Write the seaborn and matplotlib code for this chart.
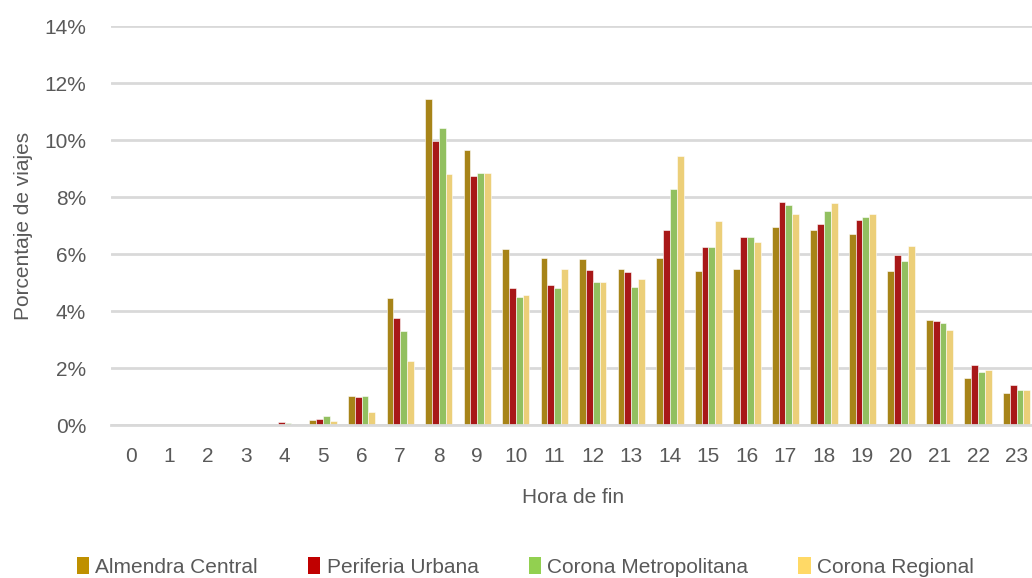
import matplotlib
matplotlib.use("Agg")
import matplotlib.pyplot as plt
import seaborn as sns
import pandas as pd
from matplotlib.patches import Patch
from matplotlib.ticker import FuncFormatter

horas = [str(h) for h in range(24)]
almendra_central = [0.0, 0.0, 0.0, 0.0, 0.01, 0.19, 1.03, 4.47, 11.46, 9.66, 6.18, 5.87,
                    5.82, 5.46, 5.86, 5.40, 5.48, 6.95, 6.83, 6.70, 5.41, 3.67, 1.66, 1.12]
periferia_urbana = [0.0, 0.0, 0.0, 0.0, 0.09, 0.22, 0.97, 3.74, 9.96, 8.75, 4.82, 4.91,
                    5.44, 5.38, 6.85, 6.25, 6.60, 7.84, 7.05, 7.19, 5.98, 3.66, 2.10, 1.40]
corona_metropolitana = [0.0, 0.0, 0.0, 0.0, 0.07, 0.33, 1.02, 3.30, 10.41, 8.85, 4.49, 4.82,
                        5.03, 4.85, 8.30, 6.24, 6.59, 7.72, 7.52, 7.30, 5.76, 3.58, 1.85, 1.23]
corona_regional = [0.0, 0.0, 0.0, 0.0, 0.0, 0.14, 0.46, 2.26, 8.82, 8.86, 4.57, 5.48,
                   5.03, 5.14, 9.44, 7.17, 6.42, 7.41, 7.80, 7.41, 6.30, 3.33, 1.94, 1.23]
zonas = ["Almendra Central", "Periferia Urbana", "Corona Metropolitana", "Corona Regional"]
colores = ["#BF9000", "#C00000", "#92D050", "#FFD966"]
y_ticks = [0, 2, 4, 6, 8, 10, 12, 14]

series = [almendra_central, periferia_urbana, corona_metropolitana, corona_regional]
df = pd.DataFrame({
    "hora": horas * 4,
    "pct": [v for s in series for v in s],
    "zona": [z for z in zonas for _ in horas],
})

sns.set_theme(style="white")
fam = ["Liberation Sans Narrow", "Liberation Sans", "DejaVu Sans"]
plt.rcParams["font.family"] = fam
txt = "#595959"
fs = 15

fig = plt.figure(figsize=(10.32, 5.78), dpi=100)
ax = fig.add_axes([0.1078, 0.2647, 0.8959, 0.690])

sns.barplot(data=df, x="hora", y="pct", hue="zona", order=horas, hue_order=zonas,
            palette=colores, width=0.71, edgecolor="white", linewidth=0.4,
            ax=ax, legend=False, errorbar=None)

ax.set_ylim(0, 14)
ax.set_xlim(-0.5, 23.5)
ax.set_yticks(y_ticks)
ax.yaxis.set_major_formatter(FuncFormatter(lambda v, p: f"{int(v)}%"))
ax.grid(axis="y", color="#D9D9D9", linewidth=2)
ax.set_axisbelow(True)
for s in ["top", "right", "left"]:
    ax.spines[s].set_visible(False)
ax.spines["bottom"].set_color("#D9D9D9")
ax.spines["bottom"].set_linewidth(2)
ax.tick_params(axis="y", length=0, pad=18, labelsize=fs, labelcolor=txt)
ax.tick_params(axis="x", length=0, pad=16, labelsize=fs, labelcolor=txt)
ax.set_xlabel("Hora de fin", fontsize=fs, color=txt, labelpad=16)
ax.set_ylabel("Porcentaje de viajes", fontsize=fs, color=txt, labelpad=8)

handles = [Patch(facecolor=c, edgecolor="none") for c in colores]
fig.legend(handles, zonas, loc="lower center", bbox_to_anchor=(0.509, -0.03), ncol=4,
           frameon=False, fontsize=fs, labelcolor=txt, handlelength=0.6,
           handleheight=0.85, handletextpad=0.3, columnspacing=2.4)

fig.savefig("out.png", dpi=100)
